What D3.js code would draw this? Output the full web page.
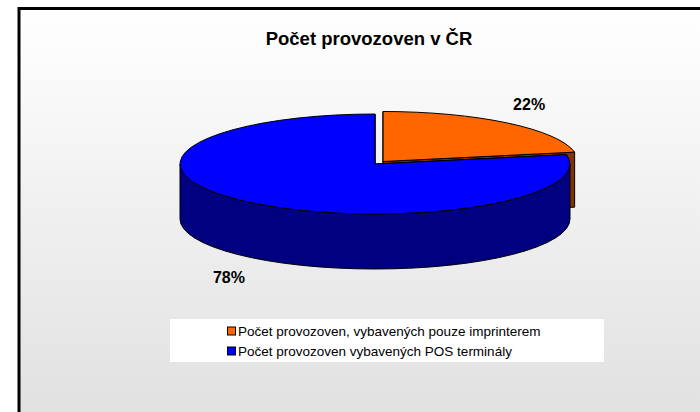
<html>
<head>
<meta charset="utf-8">
<script src="https://d3js.org/d3.v7.min.js"></script>
<style>body { margin: 0; background: #fff; }</style>
</head>
<body>
<div id="vis"></div>
<script>
// data
var categories = ["Počet provozoven, vybavených pouze imprinterem", "Počet provozoven vybavených POS terminály"]
var values = [22, 78]
var labels = ["22%", "78%"]
var title = "Počet provozoven v ČR"

var topColors = ["#ff6600", "#0000ff"]
var sideColors = ["#803300", "#000080"]
var explode = [0.065, 0]

var width = 700, height = 412
var font = "Arial, 'Liberation Sans', sans-serif"

var svg = d3.select("#vis").append("svg")
  .attr("width", width)
  .attr("height", height)

// background gradient of the chart area
var grad = svg.append("defs").append("linearGradient")
  .attr("id", "bg").attr("x1", 0).attr("y1", 0).attr("x2", 0).attr("y2", 1)
grad.append("stop").attr("offset", "0%").attr("stop-color", "#ffffff")
grad.append("stop").attr("offset", "100%").attr("stop-color", "#dedede")

svg.append("rect")
  .attr("x", 19).attr("y", 8.5)
  .attr("width", 720).attr("height", 440)
  .attr("fill", "url(#bg)")
  .attr("stroke", "#000")
  .attr("stroke-width", 3)

svg.append("text")
  .text(title)
  .attr("x", 369).attr("y", 45)
  .attr("text-anchor", "middle")
  .attr("font-family", font)
  .attr("font-weight", "bold")
  .attr("font-size", "18.5px")

// 3d pie
var cx = 375, cy = 164, rx = 195, ry = 50, depth = 55
var arcs = d3.pie().sort(null)(values)

function pt(o, a, dz) {
  return [o[0] + rx * Math.sin(a), o[1] - ry * Math.cos(a) + (dz || 0)]
}

arcs.forEach(function(d, i) {
  d.mid = (d.startAngle + d.endAngle) / 2
  d.o = [cx + explode[i] * rx * Math.sin(d.mid), cy - explode[i] * ry * Math.cos(d.mid)]
  d.i = i
})

// back slices first
var order = arcs.slice().sort(function(a, b) { return -Math.cos(a.mid) - -Math.cos(b.mid) })

var pieG = svg.append("g")
  .attr("stroke", "#000")
  .attr("stroke-width", 1)
  .attr("stroke-linejoin", "round")

order.forEach(function(d) {
  var o = d.o
  var g = pieG.append("g")

  // radial cut faces
  ;[d.startAngle, d.endAngle].forEach(function(a) {
    var p = pt(o, a)
    g.append("path")
      .attr("fill", sideColors[d.i])
      .attr("d", "M" + o + "L" + p + "L" + [p[0], p[1] + depth] + "L" + [o[0], o[1] + depth] + "Z")
  })

  // front outer wall
  var a1 = Math.max(d.startAngle, Math.PI / 2)
  var a2 = Math.min(d.endAngle, Math.PI * 3 / 2)
  if (a2 > a1) {
    var p1 = pt(o, a1), p2 = pt(o, a2)
    g.append("path")
      .attr("fill", sideColors[d.i])
      .attr("d", "M" + p1 +
        "A" + rx + "," + ry + " 0 0 1 " + p2 +
        "L" + pt(o, a2, depth) +
        "A" + rx + "," + ry + " 0 0 0 " + pt(o, a1, depth) + "Z")
  }

  // top face
  var large = d.endAngle - d.startAngle > Math.PI ? 1 : 0
  g.append("path")
    .attr("fill", topColors[d.i])
    .attr("d", "M" + o + "L" + pt(o, d.startAngle) +
      "A" + rx + "," + ry + " 0 " + large + " 1 " + pt(o, d.endAngle) + "Z")
})

// percentage labels
svg.selectAll(".lbl")
  .data(arcs)
  .enter().append("text")
  .attr("class", "lbl")
  .text(function(d, i) { return labels[i] })
  .attr("x", function(d) { return d.o[0] + rx * 1.175 * Math.sin(d.mid) })
  .attr("y", function(d) {
    var c = Math.cos(d.mid)
    return d.o[1] - ry * 1.2 * c + (c < 0 ? depth : 0) - c * 15 + 6
  })
  .attr("text-anchor", "middle")
  .attr("font-family", font)
  .attr("font-weight", "bold")
  .attr("font-size", "16px")

// legend
var legend = svg.append("g")
legend.append("rect")
  .attr("x", 170).attr("y", 319)
  .attr("width", 434).attr("height", 43)
  .attr("fill", "#fff")

var row = d3.scaleBand().domain(categories).range([321, 361])

var items = legend.selectAll(".item")
  .data(categories)
  .enter().append("g")
  .attr("transform", function(d) { return "translate(227," + (row(d) + row.bandwidth() / 2) + ")" })

items.append("rect")
  .attr("x", 0.5).attr("y", -4)
  .attr("width", 8).attr("height", 8)
  .attr("fill", function(d, i) { return topColors[i] })
  .attr("stroke", "#000")
  .attr("stroke-width", 1)

items.append("text")
  .text(function(d) { return d })
  .attr("x", 11).attr("y", 5)
  .attr("font-family", font)
  .attr("font-size", "13.5px")
</script>
</body>
</html>
